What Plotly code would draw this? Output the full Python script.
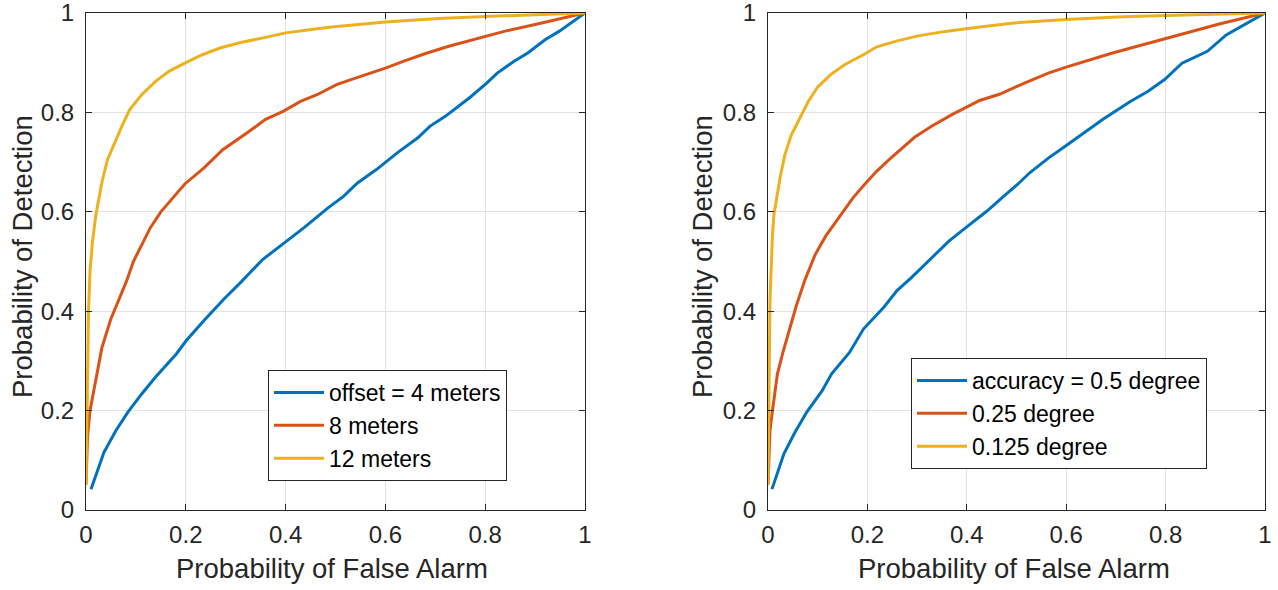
import plotly.graph_objects as go

# ---- Left panel: offset ----
l_off4_x = [0.01, 0.036, 0.06, 0.084, 0.112, 0.139, 0.181, 0.201, 0.236, 0.277, 0.312, 0.354, 0.402, 0.437,
            0.485, 0.516, 0.544, 0.582, 0.623, 0.665, 0.689, 0.72, 0.768, 0.803, 0.824, 0.858, 0.886, 0.92, 0.948, 1.0]
l_off4_y = [0.042, 0.116, 0.16, 0.197, 0.234, 0.267, 0.314, 0.341, 0.381, 0.425, 0.46, 0.504, 0.541, 0.568,
            0.608, 0.631, 0.658, 0.685, 0.718, 0.749, 0.772, 0.792, 0.829, 0.859, 0.879, 0.903, 0.92, 0.946, 0.963, 1.0]

l_off8_x = [0.0, 0.003, 0.008, 0.019, 0.032, 0.05, 0.064, 0.081, 0.095, 0.129, 0.15, 0.198, 0.236, 0.274, 0.323,
            0.36, 0.395, 0.43, 0.464, 0.502, 0.54, 0.6, 0.637, 0.679, 0.727, 0.775, 0.8, 0.838, 0.9, 1.0]
l_off8_y = [0.052, 0.146, 0.2, 0.26, 0.327, 0.385, 0.42, 0.46, 0.5, 0.568, 0.6, 0.656, 0.688, 0.725, 0.759,
            0.786, 0.802, 0.822, 0.836, 0.856, 0.869, 0.889, 0.903, 0.918, 0.933, 0.946, 0.952, 0.963, 0.977, 1.0]

l_off12_x = [0.0, 0.002, 0.005, 0.008, 0.013, 0.02, 0.032, 0.043, 0.06, 0.073, 0.088, 0.112, 0.14, 0.167, 0.2, 0.233,
             0.27, 0.312, 0.36, 0.4, 0.444, 0.492, 0.6, 0.706, 0.8, 1.0]
l_off12_y = [0.05, 0.25, 0.4, 0.48, 0.54, 0.595, 0.66, 0.705, 0.745, 0.775, 0.806, 0.836, 0.863, 0.883, 0.9, 0.916,
             0.93, 0.941, 0.951, 0.96, 0.966, 0.972, 0.982, 0.989, 0.993, 1.0]

# ---- Right panel: accuracy ----
r_a050_x = [0.008, 0.032, 0.054, 0.078, 0.109, 0.128, 0.164, 0.192, 0.233, 0.26, 0.288, 0.326, 0.364, 0.398,
            0.44, 0.474, 0.502, 0.526, 0.564, 0.598, 0.626, 0.674, 0.729, 0.764, 0.798, 0.833, 0.884, 0.922, 1.0]
r_a050_y = [0.042, 0.113, 0.156, 0.197, 0.24, 0.274, 0.317, 0.364, 0.408, 0.442, 0.467, 0.504, 0.541, 0.568,
            0.601, 0.631, 0.655, 0.678, 0.708, 0.732, 0.752, 0.786, 0.822, 0.842, 0.866, 0.899, 0.923, 0.956, 1.0]

r_a025_x = [0.0, 0.004, 0.009, 0.019, 0.03, 0.043, 0.057, 0.074, 0.095, 0.116, 0.143, 0.171, 0.195, 0.219, 0.247,
            0.295, 0.329, 0.371, 0.426, 0.467, 0.516, 0.564, 0.6, 0.639, 0.688, 0.743, 0.8, 0.846, 0.908, 1.0]
r_a025_y = [0.052, 0.16, 0.2, 0.274, 0.317, 0.361, 0.411, 0.462, 0.514, 0.551, 0.588, 0.628, 0.656, 0.682, 0.708,
            0.75, 0.772, 0.796, 0.824, 0.837, 0.859, 0.879, 0.891, 0.903, 0.918, 0.933, 0.948, 0.961, 0.978, 1.0]

r_a0125_x = [0.0, 0.002, 0.004, 0.009, 0.012, 0.025, 0.034, 0.047, 0.064, 0.081, 0.1, 0.126, 0.154, 0.192, 0.219,
             0.26, 0.302, 0.357, 0.426, 0.495, 0.6, 0.702, 0.8, 1.0]
r_a0125_y = [0.05, 0.25, 0.42, 0.554, 0.595, 0.672, 0.715, 0.755, 0.789, 0.822, 0.851, 0.876, 0.896, 0.916, 0.932,
             0.944, 0.954, 0.963, 0.972, 0.98, 0.987, 0.992, 0.995, 1.0]

left_names = ["offset = 4 meters", "8 meters", "12 meters"]
right_names = ["accuracy = 0.5 degree", "0.25 degree", "0.125 degree"]
colors = ["#0072BD", "#D95319", "#EDB120"]

tick_vals = [0, 0.2, 0.4, 0.6, 0.8, 1]
tick_text = ["0", "0.2", "0.4", "0.6", "0.8", "1"]

FONT = "Liberation Sans, Arial, Helvetica, sans-serif"
INK = "#262626"

fig = go.Figure()

left = [(l_off4_x, l_off4_y), (l_off8_x, l_off8_y), (l_off12_x, l_off12_y)]
right = [(r_a050_x, r_a050_y), (r_a025_x, r_a025_y), (r_a0125_x, r_a0125_y)]

for i, ((x, y), name) in enumerate(zip(left, left_names)):
    fig.add_trace(go.Scatter(x=x, y=y, mode="lines", name=name, line=dict(color=colors[i], width=3),
                             xaxis="x", yaxis="y", legend="legend"))
for i, ((x, y), name) in enumerate(zip(right, right_names)):
    fig.add_trace(go.Scatter(x=x, y=y, mode="lines", name=name, line=dict(color=colors[i], width=3),
                             xaxis="x2", yaxis="y2", legend="legend2"))

W, H = 1278, 590
def px(v):
    return v / W
def py(v):
    return (H - v) / H

Lx0, Lx1, Rx0, Rx1 = 86, 585, 768, 1265
Ytop, Ybot = 13, 510

def ax(domain, anchor, standoff):
    return dict(domain=domain, anchor=anchor, range=[0, 1], tickvals=tick_vals, ticktext=tick_text,
                showgrid=True, gridcolor="#E3E3E3", gridwidth=1, zeroline=False, automargin=False,
                showline=True, linecolor=INK, linewidth=1, mirror="ticks", ticks="inside",
                ticklen=6, tickcolor=INK, tickfont=dict(family=FONT, size=24, color=INK),
                ticklabelstandoff=standoff, ticklabeloverflow="allow")

ydom = [py(Ybot), py(Ytop)]
xa = ax([px(Lx0), px(Lx1)], "y", 3)
xb = ax([px(Rx0), px(Rx1)], "y2", 3)
ya = ax(ydom, "x", 6)
yb = ax(ydom, "x2", 6)

legend_common = dict(font=dict(family=FONT, size=23, color="#000000"), bgcolor="white",
                     bordercolor=INK, borderwidth=1, xanchor="left", yanchor="top", itemclick=False,
                     itemwidth=50)

TITLE = dict(family=FONT, size=27.5, color=INK)
fig.update_layout(
    width=W, height=H, margin=dict(l=0, r=0, t=0, b=0, autoexpand=False),
    paper_bgcolor="white", plot_bgcolor="white", hovermode=False,
    xaxis=xa, yaxis=ya, xaxis2=xb, yaxis2=yb,
    legend=dict(x=px(268), y=py(370), **legend_common),
    legend2=dict(x=px(911), y=py(358), **legend_common),
    annotations=[
        dict(text="Probability of False Alarm", x=px(332), y=py(568), xref="paper", yref="paper",
             showarrow=False, font=TITLE, xanchor="center", yanchor="middle"),
        dict(text="Probability of False Alarm", x=px(1014), y=py(568), xref="paper", yref="paper",
             showarrow=False, font=TITLE, xanchor="center", yanchor="middle"),
        dict(text="Probability of Detection", x=px(22), y=py(257), xref="paper", yref="paper",
             showarrow=False, textangle=-90, font=TITLE, xanchor="center", yanchor="middle"),
        dict(text="Probability of Detection", x=px(702), y=py(257), xref="paper", yref="paper",
             showarrow=False, textangle=-90, font=TITLE, xanchor="center", yanchor="middle"),
    ],
)

# remove the default 8px page margin so the figure fills the window exactly
fig.write_html("out.html", config={"displayModeBar": False},
               post_script="document.body.style.margin='0px';")
